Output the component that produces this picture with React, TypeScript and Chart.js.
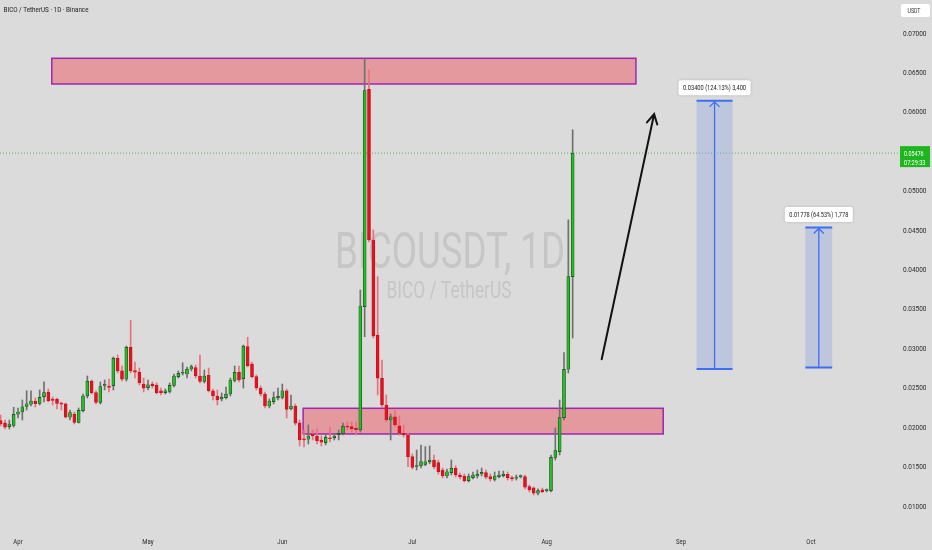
import React, { useEffect, useRef } from 'react';
import { Chart, registerables } from 'chart.js';
Chart.register(...registerables);

// day index: 0 = Apr 1, first candle is Mar 28
const firstDay = -4;

const opens = [
  0.02082, 0.02056, 0.02006, 0.02023, 0.02163, 0.02192, 0.02264, 0.02290, 0.02332, 0.02302,
  0.02386, 0.02446, 0.02357, 0.02353, 0.02306, 0.02297, 0.02125, 0.02167, 0.02061, 0.02209,
  0.02395, 0.02585, 0.02437, 0.02315, 0.02528, 0.02522, 0.02526, 0.02873, 0.02713, 0.02607,
  0.03013, 0.02716, 0.02699, 0.02547, 0.02500, 0.02547, 0.02534, 0.02462, 0.02437, 0.02454,
  0.02530, 0.02640, 0.02683, 0.02674, 0.02737, 0.02754, 0.02649, 0.02581, 0.02658, 0.02462,
  0.02395, 0.02357, 0.02374, 0.02420, 0.02594, 0.02696, 0.02614, 0.03021, 0.02801, 0.02640,
  0.02496, 0.02420, 0.02268, 0.02323, 0.02370, 0.02378, 0.02462, 0.02233, 0.02268, 0.02056,
  0.01853, 0.01846, 0.01913, 0.01888, 0.01837, 0.01803, 0.01862, 0.01866, 0.01904, 0.01921,
  0.02014, 0.02006, 0.01985, 0.01964, 0.03528, 0.06286, 0.04374, 0.03169, 0.02620, 0.02281,
  0.02090, 0.02132, 0.02018, 0.01921, 0.01900, 0.01625, 0.01500, 0.01510, 0.01527, 0.01561,
  0.01583, 0.01549, 0.01456, 0.01380, 0.01422, 0.01477, 0.01393, 0.01380, 0.01321, 0.01359,
  0.01380, 0.01405, 0.01422, 0.01372, 0.01338, 0.01372, 0.01384, 0.01401, 0.01359, 0.01351,
  0.01372, 0.01372, 0.01245, 0.01229, 0.01161, 0.01206, 0.01194, 0.01194, 0.01617, 0.01688,
  0.02120, 0.02734, 0.03910,
];
const highs = [
  0.02154, 0.02090, 0.02090, 0.02252, 0.02243, 0.02344, 0.02462, 0.02462, 0.02370, 0.02471,
  0.02576, 0.02484, 0.02382, 0.02370, 0.02319, 0.02306, 0.02217, 0.02192, 0.02243, 0.02420,
  0.02649, 0.02598, 0.02458, 0.02573, 0.02598, 0.02611, 0.02890, 0.02915, 0.02776, 0.03029,
  0.03355, 0.02826, 0.02750, 0.02623, 0.02598, 0.02573, 0.02560, 0.02496, 0.02484, 0.02560,
  0.02674, 0.02713, 0.02817, 0.02763, 0.02788, 0.02788, 0.02915, 0.02725, 0.02750, 0.02484,
  0.02471, 0.02433, 0.02509, 0.02623, 0.02776, 0.02776, 0.03042, 0.03140, 0.02826, 0.02661,
  0.02522, 0.02446, 0.02357, 0.02446, 0.02496, 0.02547, 0.02484, 0.02408, 0.02293, 0.02090,
  0.01964, 0.02027, 0.01964, 0.01977, 0.01888, 0.01901, 0.02002, 0.01913, 0.01964, 0.02052,
  0.02065, 0.02065, 0.02065, 0.03740, 0.06677, 0.06531, 0.04501, 0.03908, 0.02852, 0.02408,
  0.02167, 0.02217, 0.02141, 0.02027, 0.01926, 0.01659, 0.01710, 0.01773, 0.01752, 0.01761,
  0.01647, 0.01583, 0.01481, 0.01469, 0.01583, 0.01510, 0.01418, 0.01405, 0.01405, 0.01431,
  0.01456, 0.01481, 0.01456, 0.01405, 0.01431, 0.01443, 0.01443, 0.01431, 0.01380, 0.01393,
  0.01393, 0.01393, 0.01266, 0.01241, 0.01216, 0.01228, 0.01216, 0.01647, 0.01989, 0.02344,
  0.02945, 0.04630, 0.05772,
];
const lows = [
  0.02014, 0.01976, 0.01976, 0.02002, 0.02116, 0.02090, 0.02217, 0.02268, 0.02255, 0.02281,
  0.02319, 0.02319, 0.02281, 0.02230, 0.02217, 0.02116, 0.02090, 0.02040, 0.02052, 0.02192,
  0.02370, 0.02420, 0.02293, 0.02293, 0.02471, 0.02446, 0.02471, 0.02687, 0.02585, 0.02585,
  0.02687, 0.02623, 0.02535, 0.02446, 0.02471, 0.02496, 0.02420, 0.02408, 0.02420, 0.02433,
  0.02509, 0.02623, 0.02661, 0.02623, 0.02713, 0.02623, 0.02560, 0.02560, 0.02446, 0.02344,
  0.02281, 0.02332, 0.02357, 0.02395, 0.02573, 0.02573, 0.02496, 0.02763, 0.02623, 0.02471,
  0.02395, 0.02243, 0.02243, 0.02293, 0.02344, 0.02357, 0.02116, 0.02217, 0.02027, 0.01761,
  0.01748, 0.01786, 0.01837, 0.01786, 0.01761, 0.01774, 0.01811, 0.01837, 0.01837, 0.01900,
  0.01964, 0.01938, 0.01900, 0.01938, 0.03148, 0.04349, 0.03131, 0.02408, 0.02255, 0.02065,
  0.01837, 0.02002, 0.01900, 0.01875, 0.01498, 0.01469, 0.01456, 0.01484, 0.01510, 0.01535,
  0.01472, 0.01405, 0.01355, 0.01355, 0.01393, 0.01367, 0.01342, 0.01304, 0.01304, 0.01342,
  0.01355, 0.01380, 0.01342, 0.01317, 0.01317, 0.01355, 0.01367, 0.01329, 0.01317, 0.01329,
  0.01355, 0.01216, 0.01178, 0.01139, 0.01139, 0.01168, 0.01178, 0.01178, 0.01583, 0.01647,
  0.02090, 0.02687, 0.03131,
];
const closes = [
  0.02040, 0.01998, 0.02040, 0.02163, 0.02192, 0.02259, 0.02297, 0.02332, 0.02297, 0.02378,
  0.02437, 0.02335, 0.02340, 0.02302, 0.02290, 0.02125, 0.02186, 0.02061, 0.02214, 0.02395,
  0.02585, 0.02437, 0.02315, 0.02513, 0.02543, 0.02503, 0.02873, 0.02713, 0.02607, 0.03013,
  0.02713, 0.02696, 0.02564, 0.02493, 0.02538, 0.02526, 0.02437, 0.02437, 0.02462, 0.02530,
  0.02649, 0.02683, 0.02691, 0.02737, 0.02767, 0.02649, 0.02581, 0.02649, 0.02462, 0.02395,
  0.02344, 0.02382, 0.02420, 0.02598, 0.02696, 0.02598, 0.03029, 0.02780, 0.02640, 0.02496,
  0.02420, 0.02268, 0.02332, 0.02374, 0.02391, 0.02462, 0.02226, 0.02268, 0.02049, 0.01837,
  0.01837, 0.01888, 0.01888, 0.01828, 0.01808, 0.01871, 0.01853, 0.01888, 0.01921, 0.02014,
  0.01998, 0.01981, 0.01968, 0.03537, 0.06268, 0.04374, 0.03156, 0.02620, 0.02281, 0.02090,
  0.02132, 0.02027, 0.01921, 0.01900, 0.01625, 0.01490, 0.01510, 0.01564, 0.01561, 0.01583,
  0.01498, 0.01434, 0.01380, 0.01434, 0.01477, 0.01393, 0.01367, 0.01321, 0.01372, 0.01393,
  0.01405, 0.01427, 0.01364, 0.01342, 0.01380, 0.01393, 0.01405, 0.01355, 0.01342, 0.01367,
  0.01378, 0.01237, 0.01203, 0.01161, 0.01194, 0.01181, 0.01200, 0.01617, 0.01701, 0.02120,
  0.02734, 0.03910, 0.05476,
];

const monthLabels = ['Apr', 'May', 'Jun', 'Jul', 'Aug', 'Sep', 'Oct'];
const monthDays = [0, 30, 61, 91, 122, 153, 183];
const priceTicks = [0.01, 0.015, 0.02, 0.025, 0.03, 0.035, 0.04, 0.045, 0.05, 0.055, 0.06, 0.065, 0.07];
const lastPrice = 0.05476;
const countdown = '07:29:33';

// supply / demand zones: [fromDay, toDay, low, high]
const zoneFrom = [7.8, 65.8];
const zoneTo = [142.6, 148.9];
const zoneLow = [0.06353, 0.01913];
const zoneHigh = [0.06679, 0.02239];

// target projections
const projFrom = [156.6, 181.7];
const projTo = [164.9, 187.9];
const projBase = [0.02739, 0.02755];
const projTarget = [0.06139, 0.04533];
const projLabels = ['0.03400 (124.13%) 3,400', '0.01778 (64.53%) 1,778'];

// hand-drawn arrow
const arrowDays = [134.7, 146.8];
const arrowPrices = [0.02861, 0.05972];

const FONT = 'Roboto, "DejaVu Sans", sans-serif';

function drawText(
  ctx: CanvasRenderingContext2D, text: string, x: number, y: number, size: number,
  color: string, align: CanvasTextAlign, width?: number, sx = 1
) {
  ctx.save();
  ctx.font = `${size}px ${FONT}`;
  const w = ctx.measureText(text).width;
  const scale = width ? width / w : sx;
  ctx.translate(x, y);
  ctx.scale(scale, 1);
  ctx.textAlign = align;
  ctx.textBaseline = 'alphabetic';
  ctx.fillStyle = color;
  ctx.fillText(text, 0, 0);
  ctx.restore();
}

const overlayPlugin = {
  id: 'overlay',
  beforeDraw(chart: any) {
    const ctx = chart.ctx;
    ctx.save();
    ctx.fillStyle = '#dbdbdb';
    ctx.fillRect(0, 0, chart.width, chart.height);
    ctx.restore();
  },
  beforeDatasetsDraw(chart: any) {
    const ctx: CanvasRenderingContext2D = chart.ctx;
    const x = chart.scales.x;
    const y = chart.scales.y;
    // watermark
    drawText(ctx, 'BICOUSDT, 1D', 450, 268, 50, 'rgba(150,150,150,0.3)', 'center', 230);
    drawText(ctx, 'BICO / TetherUS', 449, 298, 23, 'rgba(150,150,150,0.3)', 'center', 125);
    // zones
    for (let i = 0; i < zoneFrom.length; i++) {
      const x0 = x.getPixelForValue(zoneFrom[i]);
      const x1 = x.getPixelForValue(zoneTo[i]);
      const y0 = y.getPixelForValue(zoneHigh[i]);
      const y1 = y.getPixelForValue(zoneLow[i]);
      ctx.save();
      ctx.fillStyle = 'rgba(242,54,69,0.4)';
      ctx.fillRect(x0, y0, x1 - x0, y1 - y0);
      ctx.strokeStyle = '#9c27b0';
      ctx.lineWidth = 1.5;
      ctx.strokeRect(x0, y0, x1 - x0, y1 - y0);
      ctx.restore();
    }
  },
  afterDatasetsDraw(chart: any) {
    const ctx: CanvasRenderingContext2D = chart.ctx;
    const x = chart.scales.x;
    const y = chart.scales.y;
    const area = chart.chartArea;

    // last price dotted line
    const py = y.getPixelForValue(lastPrice);
    ctx.save();
    ctx.strokeStyle = 'rgba(40,160,40,0.7)';
    ctx.setLineDash([1, 2]);
    ctx.lineWidth = 1;
    ctx.beginPath();
    ctx.moveTo(area.left, py);
    ctx.lineTo(area.right + 4, py);
    ctx.stroke();
    ctx.restore();

    // arrow
    const ax0 = x.getPixelForValue(arrowDays[0]);
    const ay0 = y.getPixelForValue(arrowPrices[0]);
    const ax1 = x.getPixelForValue(arrowDays[1]);
    const ay1 = y.getPixelForValue(arrowPrices[1]);
    const ang = Math.atan2(ay1 - ay0, ax1 - ax0);
    ctx.save();
    ctx.strokeStyle = '#111';
    ctx.lineWidth = 2;
    ctx.lineCap = 'round';
    ctx.beginPath();
    ctx.moveTo(ax0, ay0);
    ctx.lineTo(ax1, ay1);
    ctx.moveTo(ax1 - 11 * Math.cos(ang - 0.5), ay1 - 11 * Math.sin(ang - 0.5));
    ctx.lineTo(ax1, ay1);
    ctx.lineTo(ax1 - 11 * Math.cos(ang + 0.5), ay1 - 11 * Math.sin(ang + 0.5));
    ctx.stroke();
    ctx.restore();

    // projections
    for (let i = 0; i < projFrom.length; i++) {
      const x0 = x.getPixelForValue(projFrom[i]);
      const x1 = x.getPixelForValue(projTo[i]);
      const yt = y.getPixelForValue(projTarget[i]);
      const yb = y.getPixelForValue(projBase[i]);
      const cx = (x0 + x1) / 2;
      ctx.save();
      ctx.fillStyle = 'rgba(130,155,230,0.32)';
      ctx.fillRect(x0, yt, x1 - x0, yb - yt);
      ctx.strokeStyle = '#3d6ff2';
      ctx.lineWidth = 2;
      ctx.beginPath();
      ctx.moveTo(x0, yt);
      ctx.lineTo(x1, yt);
      ctx.moveTo(x0, yb);
      ctx.lineTo(x1, yb);
      ctx.stroke();
      ctx.lineWidth = 1.3;
      ctx.beginPath();
      ctx.moveTo(cx, yb);
      ctx.lineTo(cx, yt + 1);
      ctx.moveTo(cx - 5, yt + 6);
      ctx.lineTo(cx, yt + 1);
      ctx.lineTo(cx + 5, yt + 6);
      ctx.stroke();
      // label
      const lw = i === 0 ? 72 : 68;
      const ly = yt - 13;
      ctx.shadowColor = 'rgba(0,0,0,0.18)';
      ctx.shadowBlur = 3;
      ctx.fillStyle = '#ffffff';
      ctx.beginPath();
      ctx.roundRect(cx - lw / 2, ly - 7.5, lw, 15, 2);
      ctx.fill();
      ctx.restore();
      drawText(ctx, projLabels[i], cx, ly + 2.5, 7, '#222', 'center', lw - 9);
    }

    // price axis labels
    priceTicks.forEach((v) => {
      drawText(ctx, v.toFixed(5), 903, y.getPixelForValue(v) + 2.6, 7.5, '#2b2b2b', 'left', 23.5);
    });
    // time axis labels
    monthLabels.forEach((m, i) => {
      drawText(ctx, m, x.getPixelForValue(monthDays[i]), 543.5, 7.5, '#2b2b2b', 'center', undefined, 0.8);
    });

    // last price tag
    ctx.save();
    ctx.fillStyle = '#1fb51f';
    ctx.fillRect(900, py - 7, 30, 21);
    ctx.restore();
    drawText(ctx, lastPrice.toFixed(5), 904, py + 3, 7, '#ffffff', 'left', 19.5);
    drawText(ctx, countdown, 904, py + 11.5, 7, '#ffffff', 'left', 21.5);

    // currency box
    ctx.save();
    ctx.fillStyle = '#ffffff';
    ctx.beginPath();
    ctx.roundRect(901, 4, 29, 13, 2);
    ctx.fill();
    ctx.restore();
    drawText(ctx, 'USDT', 914, 13.3, 6.5, '#333', 'center', 13);

    // title
    drawText(ctx, 'BICO / TetherUS · 1D · Binance', 3.5, 12.3, 7.8, '#1a1a1a', 'left', 85);
  },
};

const App: React.FC = () => {
  const chartRef = useRef<HTMLCanvasElement>(null);
  const chartInstance = useRef<Chart | null>(null);

  useEffect(() => {
    document.body.style.margin = '0';
    document.body.style.background = '#dbdbdb';
    if (!chartRef.current) return;
    const ctx = chartRef.current.getContext('2d');
    if (!ctx) return;
    if (chartInstance.current) chartInstance.current.destroy();

    const up = closes.map((c, i) => c >= opens[i]);
    const wickData = highs.map((h, i) => ({ x: firstDay + i, y: [lows[i], h] }));
    const bodyData = opens.map((o, i) => ({ x: firstDay + i, y: [o, closes[i]] }));

    chartInstance.current = new Chart(ctx, {
      type: 'bar',
      data: {
        datasets: [
          {
            label: 'body',
            data: bodyData as any,
            backgroundColor: up.map((u) => (u ? '#1ec21e' : '#e3121e')),
            borderColor: up.map((u) => (u ? '#243f24' : '#c8101a')),
            borderWidth: 0.7,
            borderSkipped: false,
            barThickness: 3,
            minBarLength: 1,
            grouped: false,
            order: 1,
          },
          {
            label: 'wick',
            data: wickData as any,
            backgroundColor: up.map((u) => (u ? '#707070' : '#e8707a')),
            barThickness: 1,
            grouped: false,
            order: 2,
          },
        ],
      },
      options: {
        responsive: false,
        animation: false,
        layout: { padding: { right: 36, bottom: 26 } },
        plugins: { legend: { display: false }, tooltip: { enabled: false } },
        scales: {
          x: { type: 'linear', display: false, offset: false, min: -4.154, max: 202.62 },
          y: { type: 'linear', display: false, min: 0.007711, max: 0.074186 },
        },
      },
      plugins: [overlayPlugin],
    });

    return () => {
      if (chartInstance.current) {
        chartInstance.current.destroy();
        chartInstance.current = null;
      }
    };
  }, []);

  return <canvas ref={chartRef} width={932} height={550} style={{ display: 'block' }} />;
};

export default App;
